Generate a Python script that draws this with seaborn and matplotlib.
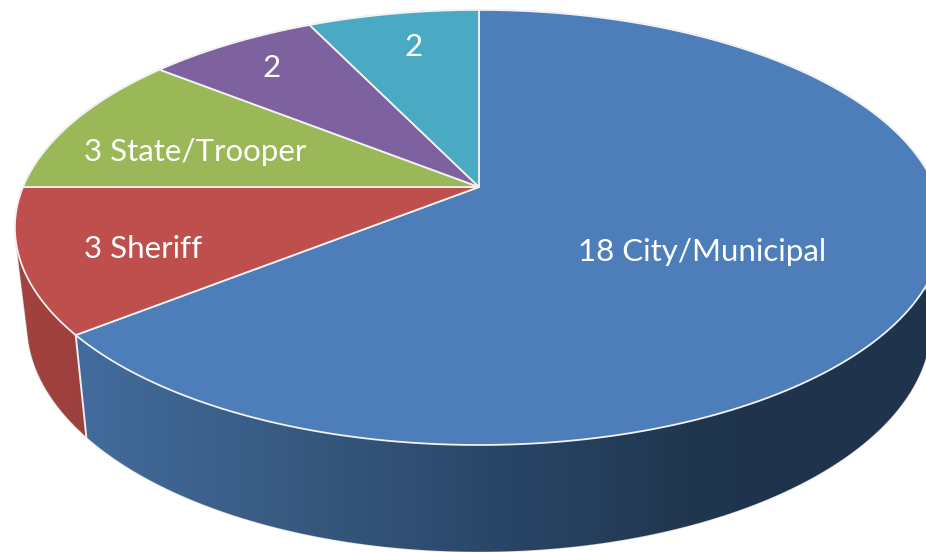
import numpy as np
import matplotlib
matplotlib.use("Agg")
import matplotlib.pyplot as plt
from matplotlib.colors import LinearSegmentedColormap
from matplotlib.patches import Polygon
import seaborn as sns

# --- data (clockwise from 12 o'clock) ---
categories = ["City/Municipal", "Sheriff", "State/Trooper", "Other A", "Other B"]
values = [18, 3, 3, 2, 2]
labels = ["18 City/Municipal", "3 Sheriff", "3 State/Trooper", "2", "2"]

# --- styles and layout ---
label_x = [702, 143, 195, 272, 414]
label_y = [252, 249, 152, 68, 47]
palette = sns.color_palette(["#4D7EBA", "#BE4F4C", "#9BB859", "#7E62A0", "#4AA9C3"])

sns.set_style("white")
plt.rcParams["font.family"] = ["Lato", "DejaVu Sans"]

W, H = 926, 552
CX, CY = 479, 187
TOP = dict(cx=CX, cy=CY, bx=456, ay=210, k=0.186)
LOW = dict(cx=CX, cy=282, bx=444, ay=219.6, k=0.186)


def project(theta, r=1.0, cx=0, cy=0, bx=1, ay=1, k=0):
    """Perspective projection of a pie-plane polar point to canvas pixels."""
    x, y = r * np.sin(theta), r * np.cos(theta)
    d = 1 + k * y
    return cx + bx * x / d, cy - ay * y / d


def arc(t0, t1, params, n=200):
    t = np.linspace(t0, t1, n)
    return np.column_stack(project(t, **params))


fig = plt.figure(figsize=(W / 100, H / 100), dpi=100)
ax = fig.add_axes([0, 0, 1, 1])
ax.set_xlim(0, W)
ax.set_ylim(H, 0)
ax.axis("off")

edges = np.concatenate([[0], np.cumsum(values)]) / np.sum(values) * 2 * np.pi
blue_start, blue_end = edges[0], edges[1]
red_end = edges[2]

# side wall: visible part from the right tangent through the front to the left tangent
left_tangent = np.deg2rad(255)
right_tangent = np.deg2rad(85)


def wall(t0, t1):
    return np.vstack([arc(t0, t1, TOP), arc(t1, t0, LOW)])


# silhouette outline
outline = np.vstack([arc(right_tangent, left_tangent, LOW), arc(left_tangent, right_tangent + 2 * np.pi, TOP)])
ax.add_patch(Polygon(outline, closed=True, facecolor="none", edgecolor="#d6d6d6", lw=1.0, zorder=1))

# blue wall with gradient
blue_cmap = LinearSegmentedColormap.from_list(
    "blue_wall",
    [(0.0, "#436C9E"), (0.27, "#37597F"), (0.5, "#294668"), (0.72, "#213750"), (0.8, "#1F344C"), (1.0, "#1F344C")],
)
grad = np.linspace(0, 1, 512)[None, :]
im = ax.imshow(grad, extent=(70, W, H, 0), cmap=blue_cmap, aspect="auto", zorder=2, interpolation="bilinear")
blue_poly = Polygon(wall(right_tangent, blue_end), closed=True, transform=ax.transData)
im.set_clip_path(blue_poly)

# red wall with gradient
red_cmap = LinearSegmentedColormap.from_list("red_wall", ["#A4423F", "#9C403D"])
im2 = ax.imshow(grad, extent=(10, 92, H, 0), cmap=red_cmap, aspect="auto", zorder=2, interpolation="bilinear")
red_poly = Polygon(wall(blue_end, left_tangent), closed=True, transform=ax.transData)
im2.set_clip_path(red_poly)
ax.set_xlim(0, W)
ax.set_ylim(H, 0)

# white seam between the walls
seam = np.vstack([project(blue_end, **TOP), project(blue_end, **LOW)])
ax.plot(seam[:, 0], seam[:, 1], color="#EEEEEE", lw=1.4, zorder=3)

# top face slices
for i, color in enumerate(palette):
    pts = np.vstack([[CX, CY], arc(edges[i], edges[i + 1], TOP)])
    ax.add_patch(Polygon(pts, closed=True, facecolor=color, edgecolor="#F2F2F2", lw=1.3, joinstyle="round", zorder=4))

for txt, lx, ly in zip(labels, label_x, label_y):
    ax.text(lx, ly, txt, color="white", fontsize=22.5, ha="center", va="center", zorder=5)

fig.savefig("out.png", dpi=100)
